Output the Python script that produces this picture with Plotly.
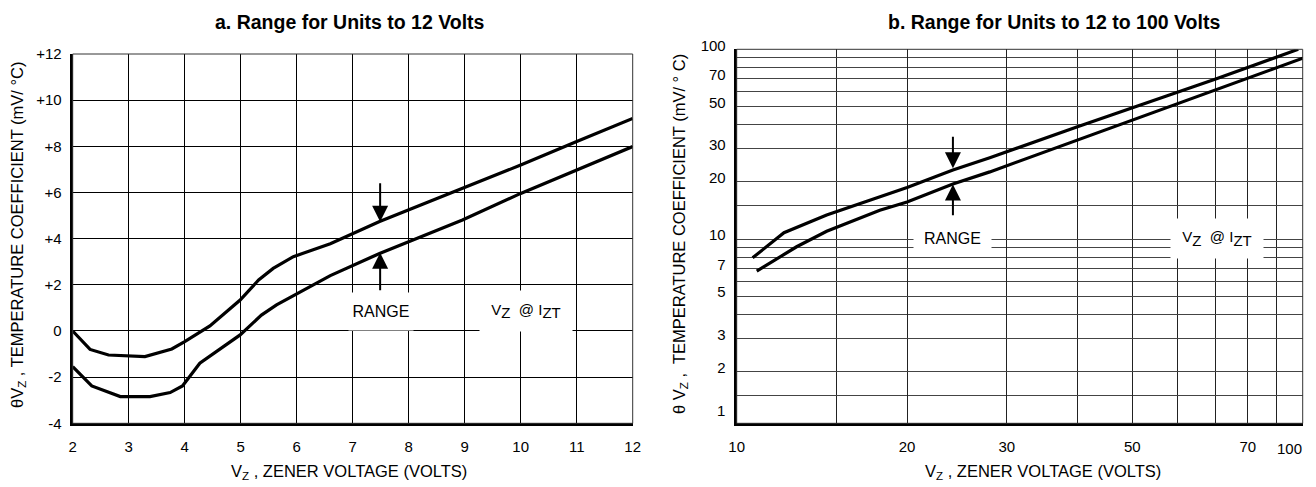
import numpy as np
import plotly.graph_objects as go

# ---------------- data ----------------
# (a) range for units to 12 V  (linear axes)
a_upper_vz = [2.0, 2.31, 2.64, 3.29, 3.77, 4.0, 4.45, 4.99, 5.32, 5.58, 5.94, 6.6, 7.48, 8.96, 10.0, 10.99, 12.0]
a_upper_tc = [0.0, -0.8, -1.04, -1.11, -0.78, -0.46, 0.22, 1.34, 2.21, 2.71, 3.22, 3.78, 4.74, 6.18, 7.19, 8.2, 9.21]
a_lower_vz = [2.0, 2.34, 2.85, 3.38, 3.74, 3.96, 4.27, 4.99, 5.37, 5.64, 6.6, 7.48, 8.96, 10.0, 12.0]
a_lower_tc = [-1.55, -2.38, -2.84, -2.84, -2.67, -2.38, -1.4, -0.17, 0.69, 1.13, 2.4, 3.36, 4.81, 5.96, 7.99]

a_x_ticks = [2, 3, 4, 5, 6, 7, 8, 9, 10, 11, 12]
a_x_text = ["2", "3", "4", "5", "6", "7", "8", "9", "10", "11", "12"]
a_y_ticks = [-4, -2, 0, 2, 4, 6, 8, 10, 12]
a_y_text = ["-4", "-2", "0", "+2", "+4", "+6", "+8", "+10", "+12"]

# (b) range for units 12 to 100 V  (log-log axes)
b_upper_vz = [10.67, 12.12, 14.42, 20.0, 24.1, 28.0, 40.0, 50.4, 70.2, 98.2]
b_upper_tc = [7.97, 10.8, 13.4, 18.7, 23.1, 26.8, 39.1, 49.5, 69.7, 100.0]
b_lower_vz = [10.85, 12.76, 14.42, 17.9, 20.0, 24.1, 28.0, 40.0, 50.4, 70.2, 100.0]
b_lower_tc = [6.78, 9.11, 11.0, 14.2, 15.7, 19.5, 22.6, 33.2, 42.8, 61.0, 89.7]

# labelled ticks (positions as printed in the reference) and unlabelled grid lines
b_x_ticks = [10, 20, 30, 50, 80]
b_x_text = ["10", "20", "30", "50", "70"]
b_x_minor = [15, 40, 60, 70, 90]
b_y_ticks = [2, 3, 5, 7, 10, 20, 30, 50, 70, 100]
b_y_text = ["2", "3", "5", "7", "10", "20", "30", "50", "70", "100"]
b_y_minor = [1.5, 4, 6, 8, 9, 15, 40, 60, 80, 90]

# ---------------- layout helpers ----------------
W, H = 1316, 487
OFF = 8  # the page body adds an 8px margin around the figure
def px(p):
    return (p - OFF) / W
def py(p):
    return 1 - (p - OFF) / H

FONT = "Liberation Sans, Arial, sans-serif"

fig = go.Figure()

line_style = dict(color="black", width=3.2)
fig.add_trace(go.Scatter(x=a_upper_vz, y=a_upper_tc, mode="lines", line=line_style,
                         xaxis="x", yaxis="y", hoverinfo="skip", showlegend=False))
fig.add_trace(go.Scatter(x=a_lower_vz, y=a_lower_tc, mode="lines", line=line_style,
                         xaxis="x", yaxis="y", hoverinfo="skip", showlegend=False))
fig.add_trace(go.Scatter(x=b_upper_vz, y=b_upper_tc, mode="lines", line=line_style,
                         xaxis="x2", yaxis="y2", hoverinfo="skip", showlegend=False))
fig.add_trace(go.Scatter(x=b_lower_vz, y=b_lower_tc, mode="lines", line=line_style,
                         xaxis="x2", yaxis="y2", hoverinfo="skip", showlegend=False))

tickfont = dict(family=FONT, size=15, color="black")

fig.update_layout(
    width=W, height=H,
    margin=dict(l=0, r=0, t=0, b=0, autoexpand=False),
    paper_bgcolor="white", plot_bgcolor="white",
    font=dict(family=FONT, size=15, color="black"),
    showlegend=False,
    xaxis=dict(domain=[px(72.7), px(632.7)], range=[2, 12], anchor="y", automargin=False,
               tickmode="array", tickvals=a_x_ticks, ticktext=a_x_text,
               showgrid=True, gridcolor="black", gridwidth=1, zeroline=False,
               showline=True, linecolor="black", linewidth=3, ticks="",
               tickfont=tickfont, ticklabelstandoff=8),
    yaxis=dict(domain=[py(423.3), py(54)], range=[-4, 12], anchor="x", automargin=False,
               tickmode="array", tickvals=a_y_ticks, ticktext=a_y_text,
               showgrid=True, gridcolor="black", gridwidth=1, zeroline=False,
               showline=True, linecolor="black", linewidth=3, ticks="",
               tickfont=tickfont, ticklabelstandoff=5),
    xaxis2=dict(domain=[px(736.7), px(1302.7)], type="log", range=[1, 2], anchor="y2", automargin=False,
                tickmode="array", tickvals=b_x_ticks, ticktext=b_x_text,
                showgrid=True, gridcolor="#222", gridwidth=1, zeroline=False,
                minor=dict(tickmode="array", tickvals=b_x_minor, showgrid=True,
                           gridcolor="#222", gridwidth=1, ticks=""),
                showline=True, linecolor="black", linewidth=3, ticks="",
                tickfont=tickfont, ticklabelstandoff=8),
    yaxis2=dict(domain=[py(423.3), py(49.3)], type="log", range=[np.log10(1.07), 2], anchor="x2",
                automargin=False,
                tickmode="array", tickvals=b_y_ticks, ticktext=b_y_text,
                showgrid=True, gridcolor="#444", gridwidth=1, zeroline=False,
                minor=dict(tickmode="array", tickvals=b_y_minor, showgrid=True,
                           gridcolor="#444", gridwidth=1, ticks=""),
                showline=True, linecolor="black", linewidth=3, ticks="",
                tickfont=tickfont, ticklabelstandoff=5, ticklabelshift=-4),
)

# thin frame (top / right borders)
for xr, yr in (("x", "y"), ("x2", "y2")):
    fig.add_shape(type="rect", xref=f"{xr} domain", yref=f"{yr} domain",
                  x0=0, x1=1, y0=0, y1=1, line=dict(color="#333", width=1), layer="above")

ann = []
def label(text, x, y, size=16, **kw):
    d = dict(text=text, xref="paper", yref="paper", x=px(x), y=py(y),
             xanchor="center", yanchor="middle", showarrow=False,
             font=dict(family=FONT, size=size, color="black"))
    d.update(kw)
    ann.append(d)

# titles (anchored at their top so nothing pokes above the figure)
label("<b>a. Range for Units to 12 Volts</b>", 349.5, 8.5, size=19.5, yanchor="top")
label("<b>b. Range for Units to 12 to 100 Volts</b>", 1054, 8.5, size=19.5, yanchor="top")
# axis titles
label("V<sub>Z</sub> , ZENER VOLTAGE (VOLTS)", 349, 472, size=16.5)
label("V<sub>Z</sub> , ZENER VOLTAGE (VOLTS)", 1043, 472, size=16.5)
label("\u03b8V<sub>Z</sub> , TEMPERATURE COEFFICIENT (mV/ \u00b0C)", 18, 235, size=16.5, textangle=-90)
label("\u03b8 V<sub>Z</sub> ,  TEMPERATURE COEFFICIENT (mV/ \u00b0 C)", 680, 234, size=16.5, textangle=-90)

# extra tick-like labels on chart b, placed where the reference prints them
ann.append(dict(text="100", xref="x2", yref="paper", x=np.log10(94.8), y=py(448),
                xanchor="center", yanchor="middle", showarrow=False, font=tickfont))
ann.append(dict(text="1", xref="paper", yref="y2", x=px(727), y=np.log10(1.25),
                xanchor="right", yanchor="middle", showarrow=False, font=tickfont))

# in-plot labels with white boxes
vz_label = ('V<sub><span style="font-size:15px">Z</span></sub>  @ '
            'I<sub><span style="font-size:15px">ZT</span></sub>')
lab_font = dict(family=FONT, size=16, color="black")
ann.append(dict(text="RANGE", xref="x", yref="y", x=7.51, y=0.85, width=62, height=35,
                bgcolor="white", showarrow=False, font=lab_font))
ann.append(dict(text=vz_label, xref="x", yref="y", x=10.09, y=0.85, width=90, height=38,
                bgcolor="white", showarrow=False, font=dict(lab_font, size=15)))
ann.append(dict(text="RANGE", xref="x2", yref="y2", x=np.log10(24.06), y=np.log10(10.1), width=75, height=28,
                bgcolor="white", showarrow=False, font=lab_font))
ann.append(dict(text=vz_label, xref="x2", yref="y2", x=np.log10(70.6), y=np.log10(10.06), width=90, height=37,
                bgcolor="white", showarrow=False, font=dict(lab_font, size=15)))

# range arrows
arrow = dict(text="", showarrow=True, arrowhead=2, arrowsize=1.6, arrowwidth=2,
             arrowcolor="black", standoff=0, startstandoff=0)
ann.append(dict(arrow, xref="x", yref="y", axref="x", ayref="y", x=7.49, y=4.73, ax=7.49, ay=6.47))
ann.append(dict(arrow, xref="x", yref="y", axref="x", ayref="y", x=7.49, y=3.39, ax=7.49, ay=1.7))
ann.append(dict(arrow, xref="x2", yref="y2", axref="x2", ayref="y2",
                x=np.log10(24.1), y=np.log10(23.6), ax=np.log10(24.1), ay=np.log10(35.3)))
ann.append(dict(arrow, xref="x2", yref="y2", axref="x2", ayref="y2",
                x=np.log10(24.1), y=np.log10(19.4), ax=np.log10(24.1), ay=np.log10(13.1)))

fig.update_layout(annotations=ann)
fig.write_html("out.html")
